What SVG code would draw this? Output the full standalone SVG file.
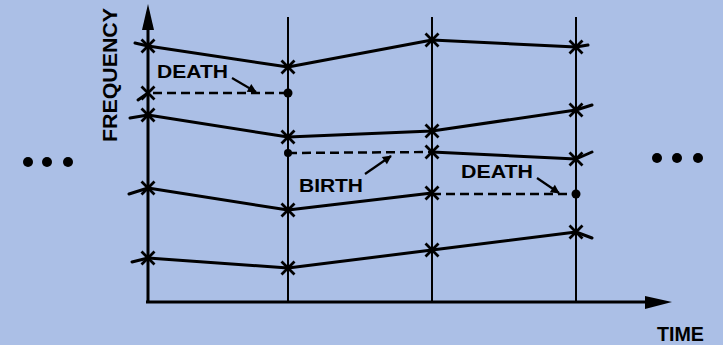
<svg xmlns="http://www.w3.org/2000/svg" width="723" height="345" viewBox="0 0 723 345">
<defs>
<style>
.ln{fill:none;stroke:#000;stroke-width:3;stroke-linejoin:round;stroke-linecap:round}
.grid{fill:none;stroke:#000;stroke-width:2}
.ax{fill:none;stroke:#000;stroke-width:3}
.dash{fill:none;stroke:#000;stroke-width:2.5;stroke-dasharray:9,5}
.ptr{fill:none;stroke:#000;stroke-width:2.2}
.lbl{font-family:"Liberation Sans",Arial,sans-serif;font-weight:bold;font-size:18px;fill:#000}
.dot{fill:#000}
</style>
<path id="x" d="M-6.5,-6.5 L6.5,6.5 M-6.5,6.5 L6.5,-6.5" stroke="#000" stroke-width="2.8" fill="none"/>
<marker id="ah" viewBox="0 0 10 10" refX="9" refY="5" markerWidth="12" markerHeight="9" orient="auto" markerUnits="userSpaceOnUse">
<path d="M0,0 L10,5 L0,10 Z" fill="#000"/>
</marker>
</defs>
<rect width="723" height="345" fill="#abbfe6"/>

<g id="axes">
<line class="ax" x1="148" y1="303" x2="148" y2="25"/>
<path d="M148,4 L142,30 L154,30 Z" fill="#000"/>
<line class="ax" x1="146" y1="302" x2="650" y2="302"/>
<path d="M672,302 L645,296 L645,309 Z" fill="#000"/>
<line class="grid" x1="288" y1="17" x2="288" y2="303"/>
<line class="grid" x1="432" y1="17" x2="432" y2="303"/>
<line class="grid" x1="576" y1="17" x2="576" y2="303"/>
</g>

<g id="axis-labels">
<text class="lbl" transform="translate(117,75) rotate(-90)" text-anchor="middle" textLength="134" lengthAdjust="spacingAndGlyphs" style="font-size:20px">FREQUENCY</text>
<text class="lbl" x="657" y="341" textLength="47" lengthAdjust="spacingAndGlyphs" style="font-size:20px">TIME</text>
</g>

<g id="connectors">
<polyline class="ln" points="135,43 148,46 288,67 432,40 576,47 588,45"/>
<polyline class="ln" points="130,118 148,115 288,137 432,131 576,110 592,105"/>
<polyline class="ln" points="432,152 576,159 592,152"/>
<polyline class="ln" points="129,194 148,188 288,210 432,193"/>
<polyline class="ln" points="132,262 148,258 288,268 432,250 576,232 592,238"/>
<line class="ln" x1="148" y1="93" x2="138" y2="100"/>
<line class="dash" x1="153" y1="93" x2="288" y2="93"/>
<line class="dash" x1="288" y1="153" x2="432" y2="152"/>
<line class="dash" x1="432" y1="194" x2="576" y2="194"/>
</g>

<g id="points">
<use href="#x" x="148" y="46"/><use href="#x" x="288" y="67"/><use href="#x" x="432" y="40"/><use href="#x" x="576" y="47"/>
<use href="#x" x="148" y="93"/>
<use href="#x" x="148" y="115"/><use href="#x" x="288" y="137"/><use href="#x" x="432" y="131"/><use href="#x" x="576" y="110"/>
<use href="#x" x="432" y="152"/><use href="#x" x="576" y="159"/>
<use href="#x" x="148" y="188"/><use href="#x" x="288" y="210"/><use href="#x" x="432" y="193"/>
<use href="#x" x="148" y="258"/><use href="#x" x="288" y="268"/><use href="#x" x="432" y="250"/><use href="#x" x="576" y="232"/>
<circle class="dot" cx="288" cy="93" r="4.5"/>
<circle class="dot" cx="288" cy="153" r="4"/>
<circle class="dot" cx="576" cy="194" r="4.5"/>
</g>

<g id="death-1">
<text class="lbl" x="157" y="78" textLength="71" lengthAdjust="spacingAndGlyphs">DEATH</text>
<line class="ptr" x1="232" y1="78" x2="256" y2="92" marker-end="url(#ah)"/>
</g>
<g id="birth">
<text class="lbl" x="299" y="192" textLength="64" lengthAdjust="spacingAndGlyphs">BIRTH</text>
<line class="ptr" x1="365" y1="174" x2="391" y2="156" marker-end="url(#ah)"/>
</g>
<g id="death-2">
<text class="lbl" x="461" y="178" textLength="72" lengthAdjust="spacingAndGlyphs">DEATH</text>
<line class="ptr" x1="537" y1="178" x2="559" y2="193" marker-end="url(#ah)"/>
</g>

<g id="ellipsis-left">
<circle class="dot" cx="28" cy="162" r="5"/><circle class="dot" cx="47" cy="162" r="5"/><circle class="dot" cx="68" cy="162" r="5"/>
</g>
<g id="ellipsis-right">
<circle class="dot" cx="657" cy="158" r="5"/><circle class="dot" cx="677" cy="158" r="5"/><circle class="dot" cx="698" cy="158" r="5"/>
</g>
</svg>
